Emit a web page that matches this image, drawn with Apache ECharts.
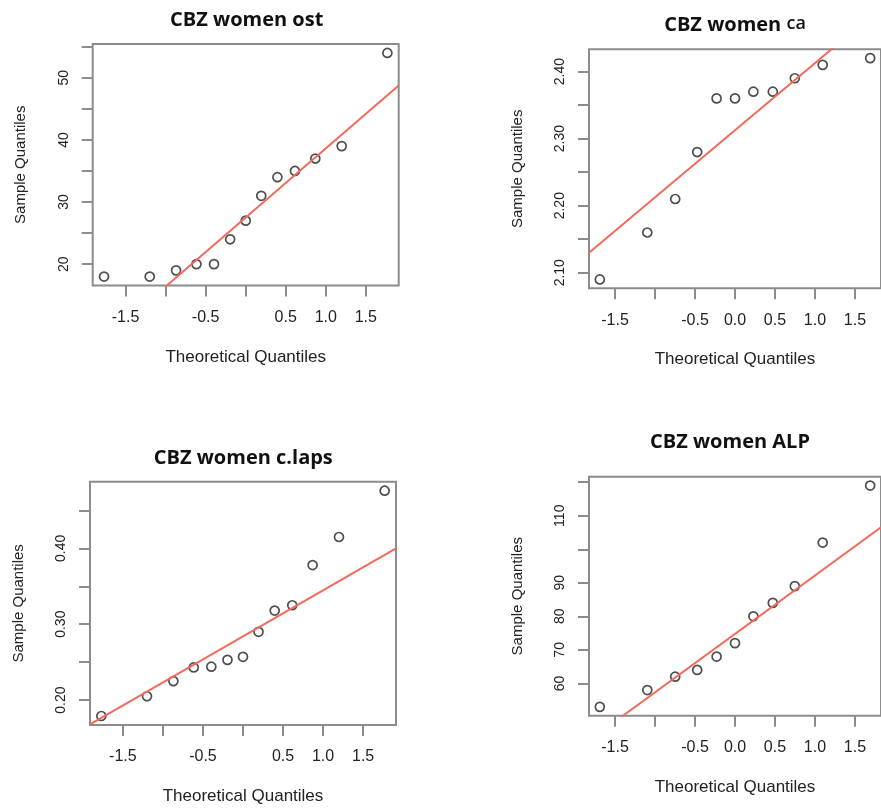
<!DOCTYPE html>
<html>
<head>
<meta charset="utf-8">
<script src="https://cdn.jsdelivr.net/npm/echarts@6/dist/echarts.min.js"></script>
<style>
html,body{margin:0;padding:0;background:#fff;}
#chart{width:881px;height:810px;}
</style>
</head>
<body>
<div id="chart"></div>
<script>
// ---- data ----
const titles = ['CBZ women ost', 'CBZ women ca', 'CBZ women c.laps', 'CBZ women ALP'];
// theoretical normal quantiles (ppoints) read from the x positions
const theo13 = [-1.7688, -1.1984, -0.8694, -0.6151, -0.3957, -0.1940, 0, 0.1940, 0.3957, 0.6151, 0.8694, 1.1984, 1.7688];
const theo11 = [-1.6906, -1.0968, -0.7478, -0.4728, -0.2299, 0, 0.2299, 0.4728, 0.7478, 1.0968, 1.6906];
// sample quantiles
const ostValues  = [18, 18, 19, 20, 20, 24, 27, 31, 34, 35, 37, 39, 54];
const caValues   = [2.09, 2.16, 2.21, 2.28, 2.36, 2.36, 2.37, 2.37, 2.39, 2.41, 2.42];
const lapsValues = [0.179, 0.205, 0.225, 0.243, 0.244, 0.253, 0.257, 0.29, 0.318, 0.325, 0.378, 0.415, 0.476];
const alpValues  = [53, 58, 62, 64, 68, 72, 80, 84, 89, 102, 119];
// ticks and labels
const xTicks   = [-1.5, -1.0, -0.5, 0, 0.5, 1.0, 1.5];
const xLabelsA = [-1.5, -0.5, 0.5, 1.0, 1.5];
const xLabelsB = [-1.5, -0.5, 0, 0.5, 1.0, 1.5];
const ostTicks  = [20, 25, 30, 35, 40, 45, 50, 55];
const ostLabels = [20, 30, 40, 50];
const caTicks   = [2.10, 2.15, 2.20, 2.25, 2.30, 2.35, 2.40];
const caLabels  = [2.10, 2.20, 2.30, 2.40];
const lapsTicks  = [0.20, 0.25, 0.30, 0.35, 0.40, 0.45];
const lapsLabels = [0.20, 0.30, 0.40];
const alpTicks  = [60, 70, 80, 90, 100, 110, 120];
const alpLabels = [60, 70, 80, 90, 110];

// ---- helpers ----
function quant(arr, p) {
  const s = arr.slice().sort((a, b) => a - b);
  const h = (s.length - 1) * p;
  const lo = Math.floor(h), hi = Math.ceil(h);
  return s[lo] + (h - lo) * (s[hi] - s[lo]);
}
const Z75 = 0.6744898;
function qqline(vals) {
  const q1 = quant(vals, 0.25), q3 = quant(vals, 0.75);
  const slope = (q3 - q1) / (2 * Z75);
  const intercept = (q1 + q3) / 2;
  return { slope, intercept };
}
function extRange(arr) {
  const mn = Math.min(...arr), mx = Math.max(...arr);
  const d = (mx - mn) * 0.04;
  return [mn - d, mx + d];
}

const panels = [
  { x: theo13, y: ostValues,  yTicks: ostTicks,  yLabels: ostLabels,  xLabels: xLabelsA, dec: 0,
    grid: { left: 92.7, top: 44, width: 306, height: 241.5 }, title: [246.7, 20] },
  { x: theo11, y: caValues,   yTicks: caTicks,   yLabels: caLabels,   xLabels: xLabelsB, dec: 2,
    grid: { left: 589, top: 49.3, width: 300, height: 239 }, title: [735, 25] },
  { x: theo13, y: lapsValues, yTicks: lapsTicks, yLabels: lapsLabels, xLabels: xLabelsA, dec: 2,
    grid: { left: 90, top: 481.7, width: 306, height: 243.3 }, title: [243.3, 458] },
  { x: theo11, y: alpValues,  yTicks: alpTicks,  yLabels: alpLabels,  xLabels: xLabelsB, dec: 0,
    grid: { left: 589, top: 476.7, width: 300, height: 239 }, title: [730, 442.7] }
];

const FONT = 'Liberation Sans';
const BORDER = '#8c8c8c';
const TFONT = 'Open Sans';
const grids = [], xAxes = [], yAxes = [], series = [], titleArr = [];

panels.forEach((p, i) => {
  grids.push(Object.assign({ show: true, borderColor: BORDER, borderWidth: 2, containLabel: false }, p.grid));
  const xr = extRange(p.x);
  const yr = extRange(p.y);
  xAxes.push({
    type: 'value', gridIndex: i, min: xr[0], max: xr[1], position: 'bottom',
    name: 'Theoretical Quantiles', nameLocation: 'middle', nameGap: 63,
    nameTextStyle: { fontFamily: FONT, fontSize: 17, color: '#222' },
    axisLine: { show: false, onZero: false },
    splitLine: { show: false },
    axisTick: { show: true, inside: false, length: 11, customValues: xTicks, lineStyle: { color: BORDER, width: 2 } },
    axisLabel: { show: true, margin: 24, customValues: p.xLabels, fontFamily: FONT, fontSize: 16, color: '#222',
      formatter: v => Number(v).toFixed(1) }
  });
  yAxes.push({
    type: 'value', gridIndex: i, min: yr[0], max: yr[1], position: 'left',
    name: 'Sample Quantiles', nameLocation: 'middle', nameGap: 64,
    nameTextStyle: { fontFamily: FONT, fontSize: 15, color: '#222' },
    axisLine: { show: false, onZero: false },
    splitLine: { show: false },
    axisTick: { show: true, inside: false, length: 11, customValues: p.yTicks, lineStyle: { color: BORDER, width: 2 } },
    axisLabel: { show: true, margin: 22, rotate: 90, customValues: p.yLabels, fontFamily: FONT, fontSize: 14, color: '#222',
      formatter: v => Number(v).toFixed(p.dec) }
  });
  series.push({
    type: 'scatter', xAxisIndex: i, yAxisIndex: i, z: 2,
    data: p.x.map((xv, k) => [xv, p.y[k]]),
    symbol: 'circle', symbolSize: 9,
    itemStyle: { color: 'rgba(0,0,0,0)', borderColor: '#222', borderWidth: 1.7 },
    silent: true
  });
  const L = qqline(p.y);
  series.push({
    type: 'line', xAxisIndex: i, yAxisIndex: i, z: 3, clip: true,
    data: [[xr[0], L.intercept + L.slope * xr[0]], [xr[1], L.intercept + L.slope * xr[1]]],
    symbol: 'none', silent: true,
    lineStyle: { color: '#f26a5c', width: 2 }
  });
  let textCfg;
  if (i === 1) {
    textCfg = {
      text: '{a|CBZ women }{b|ca}',
      textStyle: { rich: {
        a: { fontFamily: TFONT, fontWeight: 700, fontSize: 20, color: '#111' },
        b: { fontFamily: TFONT, fontWeight: 600, fontSize: 18, color: '#111', padding: [0, 0, 2, 0] }
      } }
    };
  } else {
    textCfg = { text: titles[i], textStyle: { fontFamily: TFONT, fontWeight: 700, fontSize: 20, color: '#111' } };
  }
  titleArr.push(Object.assign({ left: p.title[0], top: p.title[1] - 10, textAlign: 'center', padding: 0 }, textCfg));
});

const chart = echarts.init(document.getElementById('chart'), null, { renderer: 'canvas' });
chart.setOption({
  backgroundColor: '#fff',
  animation: false,
  title: titleArr,
  grid: grids,
  xAxis: xAxes,
  yAxis: yAxes,
  series: series
});
</script>
</body>
</html>
